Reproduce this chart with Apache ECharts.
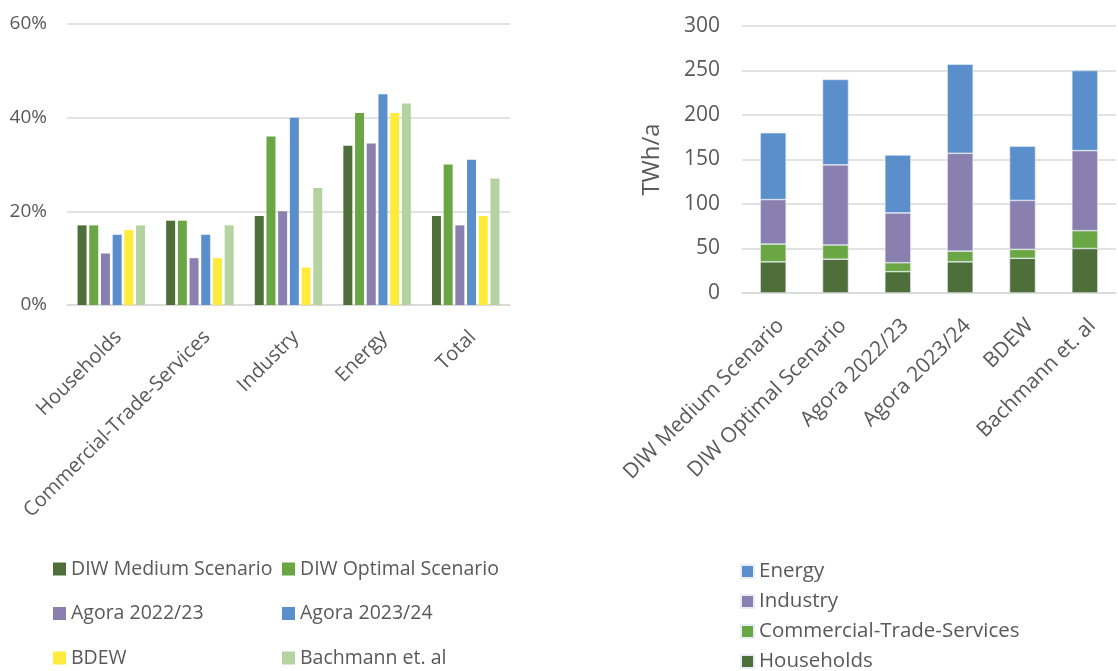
<!DOCTYPE html>
<html>
<head>
<meta charset="utf-8">
<script src="https://cdn.jsdelivr.net/npm/echarts@6/dist/echarts.min.js"></script>
<style>
  html, body { margin: 0; padding: 0; background: #fff; }
  #chart { width: 1118px; height: 671px; }
</style>
</head>
<body>
<div id="chart"></div>
<script>
// Left panel: share of each sector (percent) per study
const sectors = ['Households', 'Commercial-Trade-Services', 'Industry', 'Energy', 'Total'];
const diwMedium  = [17, 18, 19, 34, 19];
const diwOptimal = [17, 18, 36, 41, 30];
const agora2223  = [11, 10, 20, 34.5, 17];
const agora2324  = [15, 15, 40, 45, 31];
const bdew       = [16, 10, 8, 41, 19];
const bachmann   = [17, 17, 25, 43, 27];
const pctTicks = [0, 20, 40, 60];

// Right panel: absolute demand per study, stacked by sector (TWh/a)
const studies = ['DIW Medium Scenario', 'DIW Optimal Scenario', 'Agora 2022/23', 'Agora 2023/24', 'BDEW', 'Bachmann et. al'];
const households = [35, 38, 24, 35, 39, 50];
const cts        = [20, 16, 10, 12, 10, 20];
const industry   = [50, 90, 56, 110, 55, 90];
const energy     = [75, 96, 65, 100, 61, 90];
const twhTicks = [0, 50, 100, 150, 200, 250, 300];

const C = {
  dark: '#4F6F3A',
  green: '#6AA744',
  purple: '#8A80AF',
  blue: '#5A8FCB',
  yellow: '#FFEB3B',
  light: '#B5D3A0'
};
const FONT = '"Open Sans", "Noto Sans", sans-serif';
const TXT = '#595959';
const GRID = '#D9D9D9';

const leftSeries = [
  ['DIW Medium Scenario', diwMedium, C.dark],
  ['DIW Optimal Scenario', diwOptimal, C.green],
  ['Agora 2022/23', agora2223, C.purple],
  ['Agora 2023/24', agora2324, C.blue],
  ['BDEW', bdew, C.yellow],
  ['Bachmann et. al', bachmann, C.light]
].map(([name, data, color]) => ({
  name, type: 'bar', xAxisIndex: 0, yAxisIndex: 0,
  data, barWidth: 9, barGap: '30%',
  itemStyle: { color }
}));

// sector series names carry a trailing space so they stay distinct from the left panel's legend entries
const rightSeries = [
  ['Households', households, C.dark],
  ['Commercial-Trade-Services', cts, C.green],
  ['Industry', industry, C.purple],
  ['Energy', energy, C.blue]
].map(([name, data, color]) => ({
  name: name + ' ', type: 'bar', stack: 'total', xAxisIndex: 1, yAxisIndex: 1,
  data, barWidth: 26,
  itemStyle: { color, borderColor: '#E8EEF6', borderWidth: 0.6 }
}));

const legendBase = {
  orient: 'vertical', padding: 0, height: 200,
  itemWidth: 13, itemHeight: 13, icon: 'rect'
};

const option = {
  animation: false,
  textStyle: { fontFamily: FONT },
  grid: [
    { left: 67, right: 608, top: 24, bottom: 366 },
    { left: 742, right: 2, top: 26, bottom: 378 }
  ],
  xAxis: [
    {
      type: 'category', gridIndex: 0, data: sectors,
      axisLine: { lineStyle: { color: GRID, width: 1.5 } },
      axisTick: { show: false },
      axisLabel: { rotate: 45, fontSize: 20, color: TXT, fontFamily: FONT, margin: 22, interval: 0, verticalAlign: 'top' }
    },
    {
      type: 'category', gridIndex: 1, data: studies,
      axisLine: { lineStyle: { color: GRID, width: 1.5 } },
      axisTick: { show: false },
      axisLabel: { rotate: 45, fontSize: 21, color: TXT, fontFamily: FONT, margin: 22, interval: 0, verticalAlign: 'top' }
    }
  ],
  yAxis: [
    {
      type: 'value', gridIndex: 0, min: pctTicks[0], max: pctTicks[pctTicks.length - 1], interval: 20,
      axisLine: { show: false }, axisTick: { show: false },
      splitLine: { lineStyle: { color: GRID, width: 1.5 } },
      axisLabel: { formatter: '{value}%', fontSize: 19, color: TXT, fontFamily: FONT, margin: 20 }
    },
    {
      type: 'value', gridIndex: 1, min: twhTicks[0], max: twhTicks[twhTicks.length - 1], interval: 50,
      name: 'TWh/a', nameLocation: 'middle', nameRotate: 90, nameGap: 78,
      nameTextStyle: { fontSize: 24, color: TXT, fontFamily: FONT },
      axisLine: { show: false }, axisTick: { show: false },
      splitLine: { lineStyle: { color: GRID, width: 1.5 } },
      axisLabel: { fontSize: 21, color: TXT, fontFamily: FONT, margin: 22 }
    }
  ],
  legend: [
    Object.assign({}, legendBase, {
      left: 53, top: 559, itemGap: 24.5,
      textStyle: { fontFamily: FONT, fontSize: 19.5, color: TXT, lineHeight: 20 },
      data: ['DIW Medium Scenario', 'Agora 2022/23', 'BDEW']
    }),
    Object.assign({}, legendBase, {
      left: 282, top: 559, itemGap: 24.5,
      textStyle: { fontFamily: FONT, fontSize: 19.5, color: TXT, lineHeight: 20 },
      data: ['DIW Optimal Scenario', 'Agora 2023/24', 'Bachmann et. al']
    }),
    Object.assign({}, legendBase, {
      left: 740, top: 561, itemGap: 9,
      textStyle: { fontFamily: FONT, fontSize: 20.5, color: TXT, lineHeight: 21 },
      formatter: n => n.trim(),
      data: ['Energy ', 'Industry ', 'Commercial-Trade-Services ', 'Households ']
    })
  ],
  series: leftSeries.concat(rightSeries)
};

echarts.init(document.getElementById('chart')).setOption(option);
</script>
</body>
</html>
